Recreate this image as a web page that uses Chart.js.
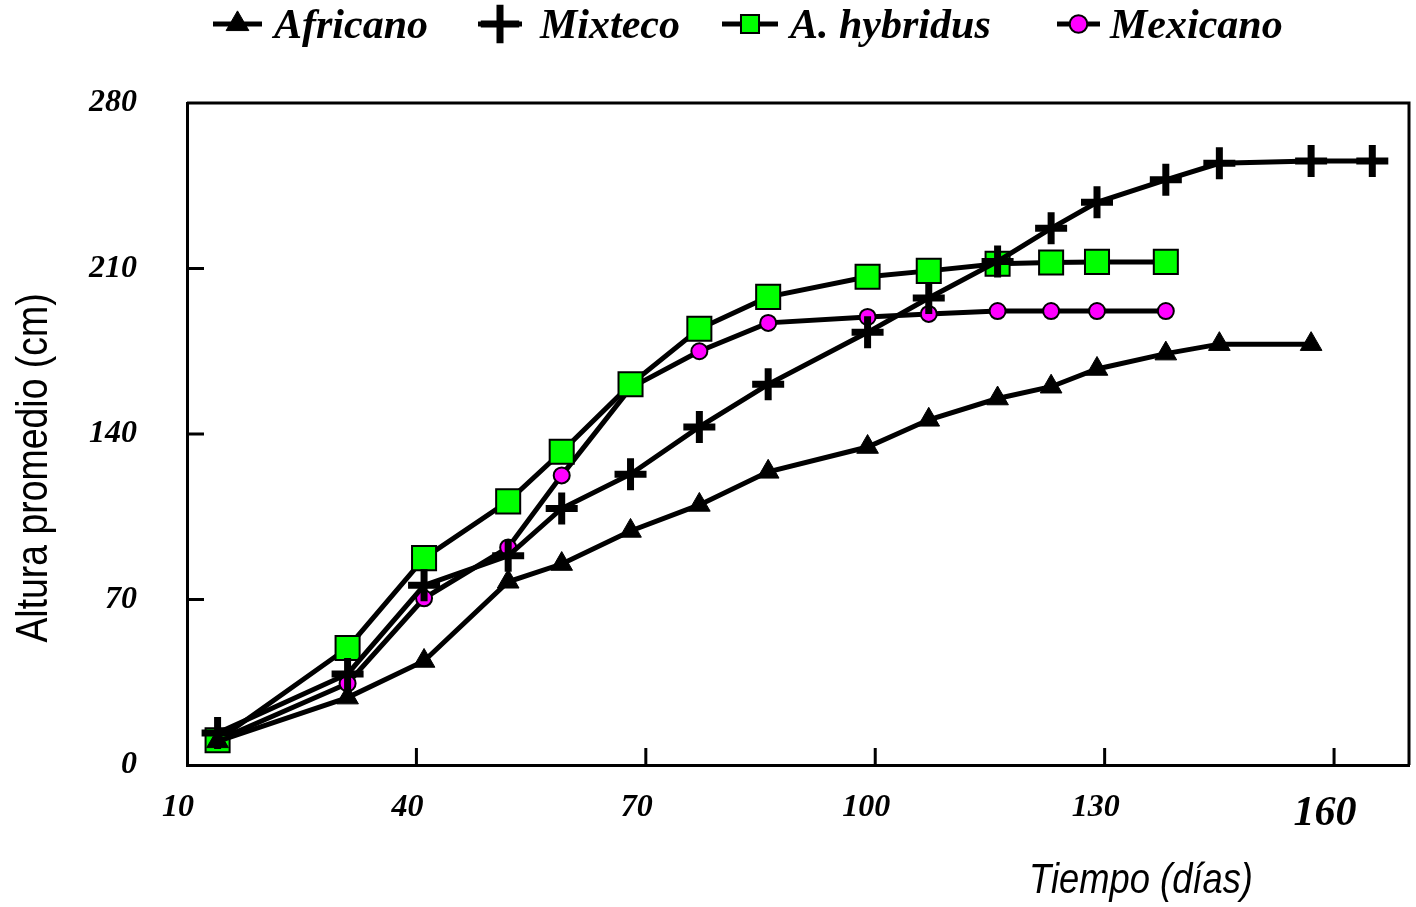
<!DOCTYPE html>
<html>
<head>
<meta charset="utf-8">
<script src="https://cdn.jsdelivr.net/npm/chart.js@4/dist/chart.umd.min.js"></script>
<style>
  html, body { margin: 0; padding: 0; background: #fff; }
  #wrap { width: 1416px; height: 907px; }
</style>
</head>
<body>
<div id="wrap"><canvas id="chart" width="1416" height="907"></canvas></div>
<script>
/* ── Data ── */
const days      = [14, 31, 41, 52, 59, 68, 77, 86, 99, 107, 116, 123, 129, 138, 145, 157, 165];
const africano  = [10, 28.5, 44, 77.5, 85, 99, 110, 124, 134.5, 146, 155, 160, 167.5, 174, 178, 178];
const mixteco   = [13.5, 38.5, 76, 88.5, 108.5, 123, 143, 161, 183, 197.5, 213, 227, 238, 247.5, 254.5, 255.5, 255.5];
const hybridus  = [10.5, 49.5, 87.5, 111.5, 132.5, 161, 184.5, 198, 206.5, 209, 212, 212.5, 212.8, 212.8];
const mexicano  = [10.5, 34.5, 70.5, 92, 122.5, 159.5, 175, 187, 189.5, 190.8, 192, 192, 192, 192];
const xTicks    = [10, 40, 70, 100, 130, 160];
const yTicks    = [0, 70, 140, 210, 280];
const seriesNames = ['Africano', 'Mixteco', 'A. hybridus', 'Mexicano'];

const serif = "'Liberation Serif', 'Times New Roman', serif";
const sans  = "'Liberation Sans', Arial, sans-serif";

const pts = vals => vals.map((v, i) => ({ x: days[i], y: v }));

/* ── Frame, inward ticks, axis titles ── */
const framePlugin = {
    id: 'frame',
    beforeDatasetsDraw(chart) {
        const { ctx, chartArea: a, scales: { x, y } } = chart;
        ctx.save();
        ctx.strokeStyle = '#000';
        ctx.lineWidth   = 3;
        ctx.beginPath();
        ctx.moveTo(a.left, a.top);
        ctx.lineTo(a.right, a.top);
        ctx.lineTo(a.right, a.bottom);
        x.ticks.forEach(t => {
            if (t.value <= x.min) return;
            const px = x.getPixelForValue(t.value);
            ctx.moveTo(px, a.bottom);
            ctx.lineTo(px, a.bottom - 17);
        });
        y.ticks.forEach(t => {
            if (t.value <= y.min || t.value >= y.max) return;
            const py = y.getPixelForValue(t.value);
            ctx.moveTo(a.left, py);
            ctx.lineTo(a.left + 17, py);
        });
        ctx.stroke();

        // axis titles (narrow sans)
        ctx.fillStyle    = '#000';
        ctx.textAlign    = 'center';
        ctx.textBaseline = 'alphabetic';

        ctx.save();
        ctx.translate(47, 468);
        ctx.rotate(-Math.PI / 2);
        ctx.scale(0.85, 1);
        ctx.font = `44px ${sans}`;
        ctx.fillText('Altura promedio (cm)', 0, 0);
        ctx.restore();

        ctx.save();
        ctx.translate(1141, 893);
        ctx.scale(0.845, 1);
        ctx.font = `italic 43px ${sans}`;
        ctx.fillText('Tiempo (días)', 0, 0);
        ctx.restore();

        ctx.restore();
    }
};

/* ── Legend along the top ── */
function drawMarker(ctx, ds, x, y, scale) {
    const opts = {
        pointStyle: ds.pointStyle,
        radius:     ds.pointRadius * scale,
        borderWidth: ds.pointBorderWidth,
        rotation:   0,
    };
    ctx.fillStyle   = ds.pointBackgroundColor;
    ctx.strokeStyle = ds.pointBorderColor;
    ctx.lineWidth   = ds.pointBorderWidth;
    Chart.helpers.drawPoint(ctx, opts, x, y);
}

const legendPlugin = {
    id: 'topLegend',
    afterDraw(chart) {
        const { ctx } = chart;
        const spots = chart.options.plugins.topLegend.spots;
        ctx.save();
        chart.data.datasets.forEach((ds, i) => {
            const [x0, x1, tx, ms] = spots[i];
            const cy = 24;
            ctx.strokeStyle = '#000';
            ctx.lineWidth   = 5;
            ctx.beginPath();
            ctx.moveTo(x0, cy);
            ctx.lineTo(x1, cy);
            ctx.stroke();
            drawMarker(ctx, ds, (x0 + x1) / 2, cy, ms);
            ctx.fillStyle    = '#000';
            ctx.font         = `italic bold 42px ${serif}`;
            ctx.textAlign    = 'left';
            ctx.textBaseline = 'alphabetic';
            ctx.fillText(ds.label, tx, 38);
        });
        ctx.restore();
    }
};

const baseLine = {
    borderColor: '#000',
    borderWidth: 5,
    fill:        false,
    tension:     0,
    pointBorderColor: '#000',
};

new Chart(document.getElementById('chart').getContext('2d'), {
    type: 'line',
    plugins: [framePlugin, legendPlugin],
    data: {
        datasets: [
            { ...baseLine, label: seriesNames[0], data: pts(africano),
              pointStyle: 'triangle', pointRadius: 12.5, pointBackgroundColor: '#000', pointBorderWidth: 1 },
            { ...baseLine, label: seriesNames[1], data: pts(mixteco),
              pointStyle: 'cross', pointRadius: 16, pointBackgroundColor: '#000', pointBorderWidth: 7 },
            { ...baseLine, label: seriesNames[2], data: pts(hybridus),
              pointStyle: 'rect', pointRadius: 17, pointBackgroundColor: '#00ff00', pointBorderWidth: 2 },
            { ...baseLine, label: seriesNames[3], data: pts(mexicano),
              pointStyle: 'circle', pointRadius: 8, pointBackgroundColor: '#ff00ff', pointBorderWidth: 2 },
        ]
    },
    options: {
        responsive: false,
        animation:  false,
        events:     [],
        layout: { autoPadding: false, padding: { left: 0, top: 103, right: 7, bottom: 0 } },
        plugins: {
            legend:  { display: false },
            tooltip: { enabled: false },
            topLegend: {
                spots: [
                    [213, 262, 274, 1.05],
                    [478, 522, 540, 1.2],
                    [722, 778, 790, 0.75],
                    [1057, 1100, 1110, 1.1],
                ]
            },
        },
        scales: {
            x: {
                type: 'linear',
                min: 10,
                max: 169.8,
                afterBuildTicks: s => { s.ticks = xTicks.map(v => ({ value: v })); },
                afterFit: s => { s.height = 142; s.paddingLeft = 0; s.paddingRight = 0; },
                grid:   { display: false, drawTicks: false },
                border: { display: true, color: '#000', width: 3 },
                ticks: {
                    color: '#000',
                    padding: 24,
                    labelOffset: -9,
                    maxRotation: 0,
                    font: c => ({
                        family: serif, style: 'italic', weight: 'bold',
                        size: c.tick && c.tick.value === 160 ? 42 : 32,
                    }),
                },
            },
            y: {
                type: 'linear',
                min: 0,
                max: 280,
                afterBuildTicks: s => { s.ticks = yTicks.map(v => ({ value: v })); },
                afterFit: s => { s.width = 187; s.paddingTop = 0; s.paddingBottom = 0; },
                grid:   { display: false, drawTicks: false },
                border: { display: true, color: '#000', width: 3 },
                ticks: {
                    color: '#000',
                    padding: 50,
                    font: { family: serif, style: 'italic', weight: 'bold', size: 32 },
                },
            },
        },
    }
});
</script>
</body>
</html>
